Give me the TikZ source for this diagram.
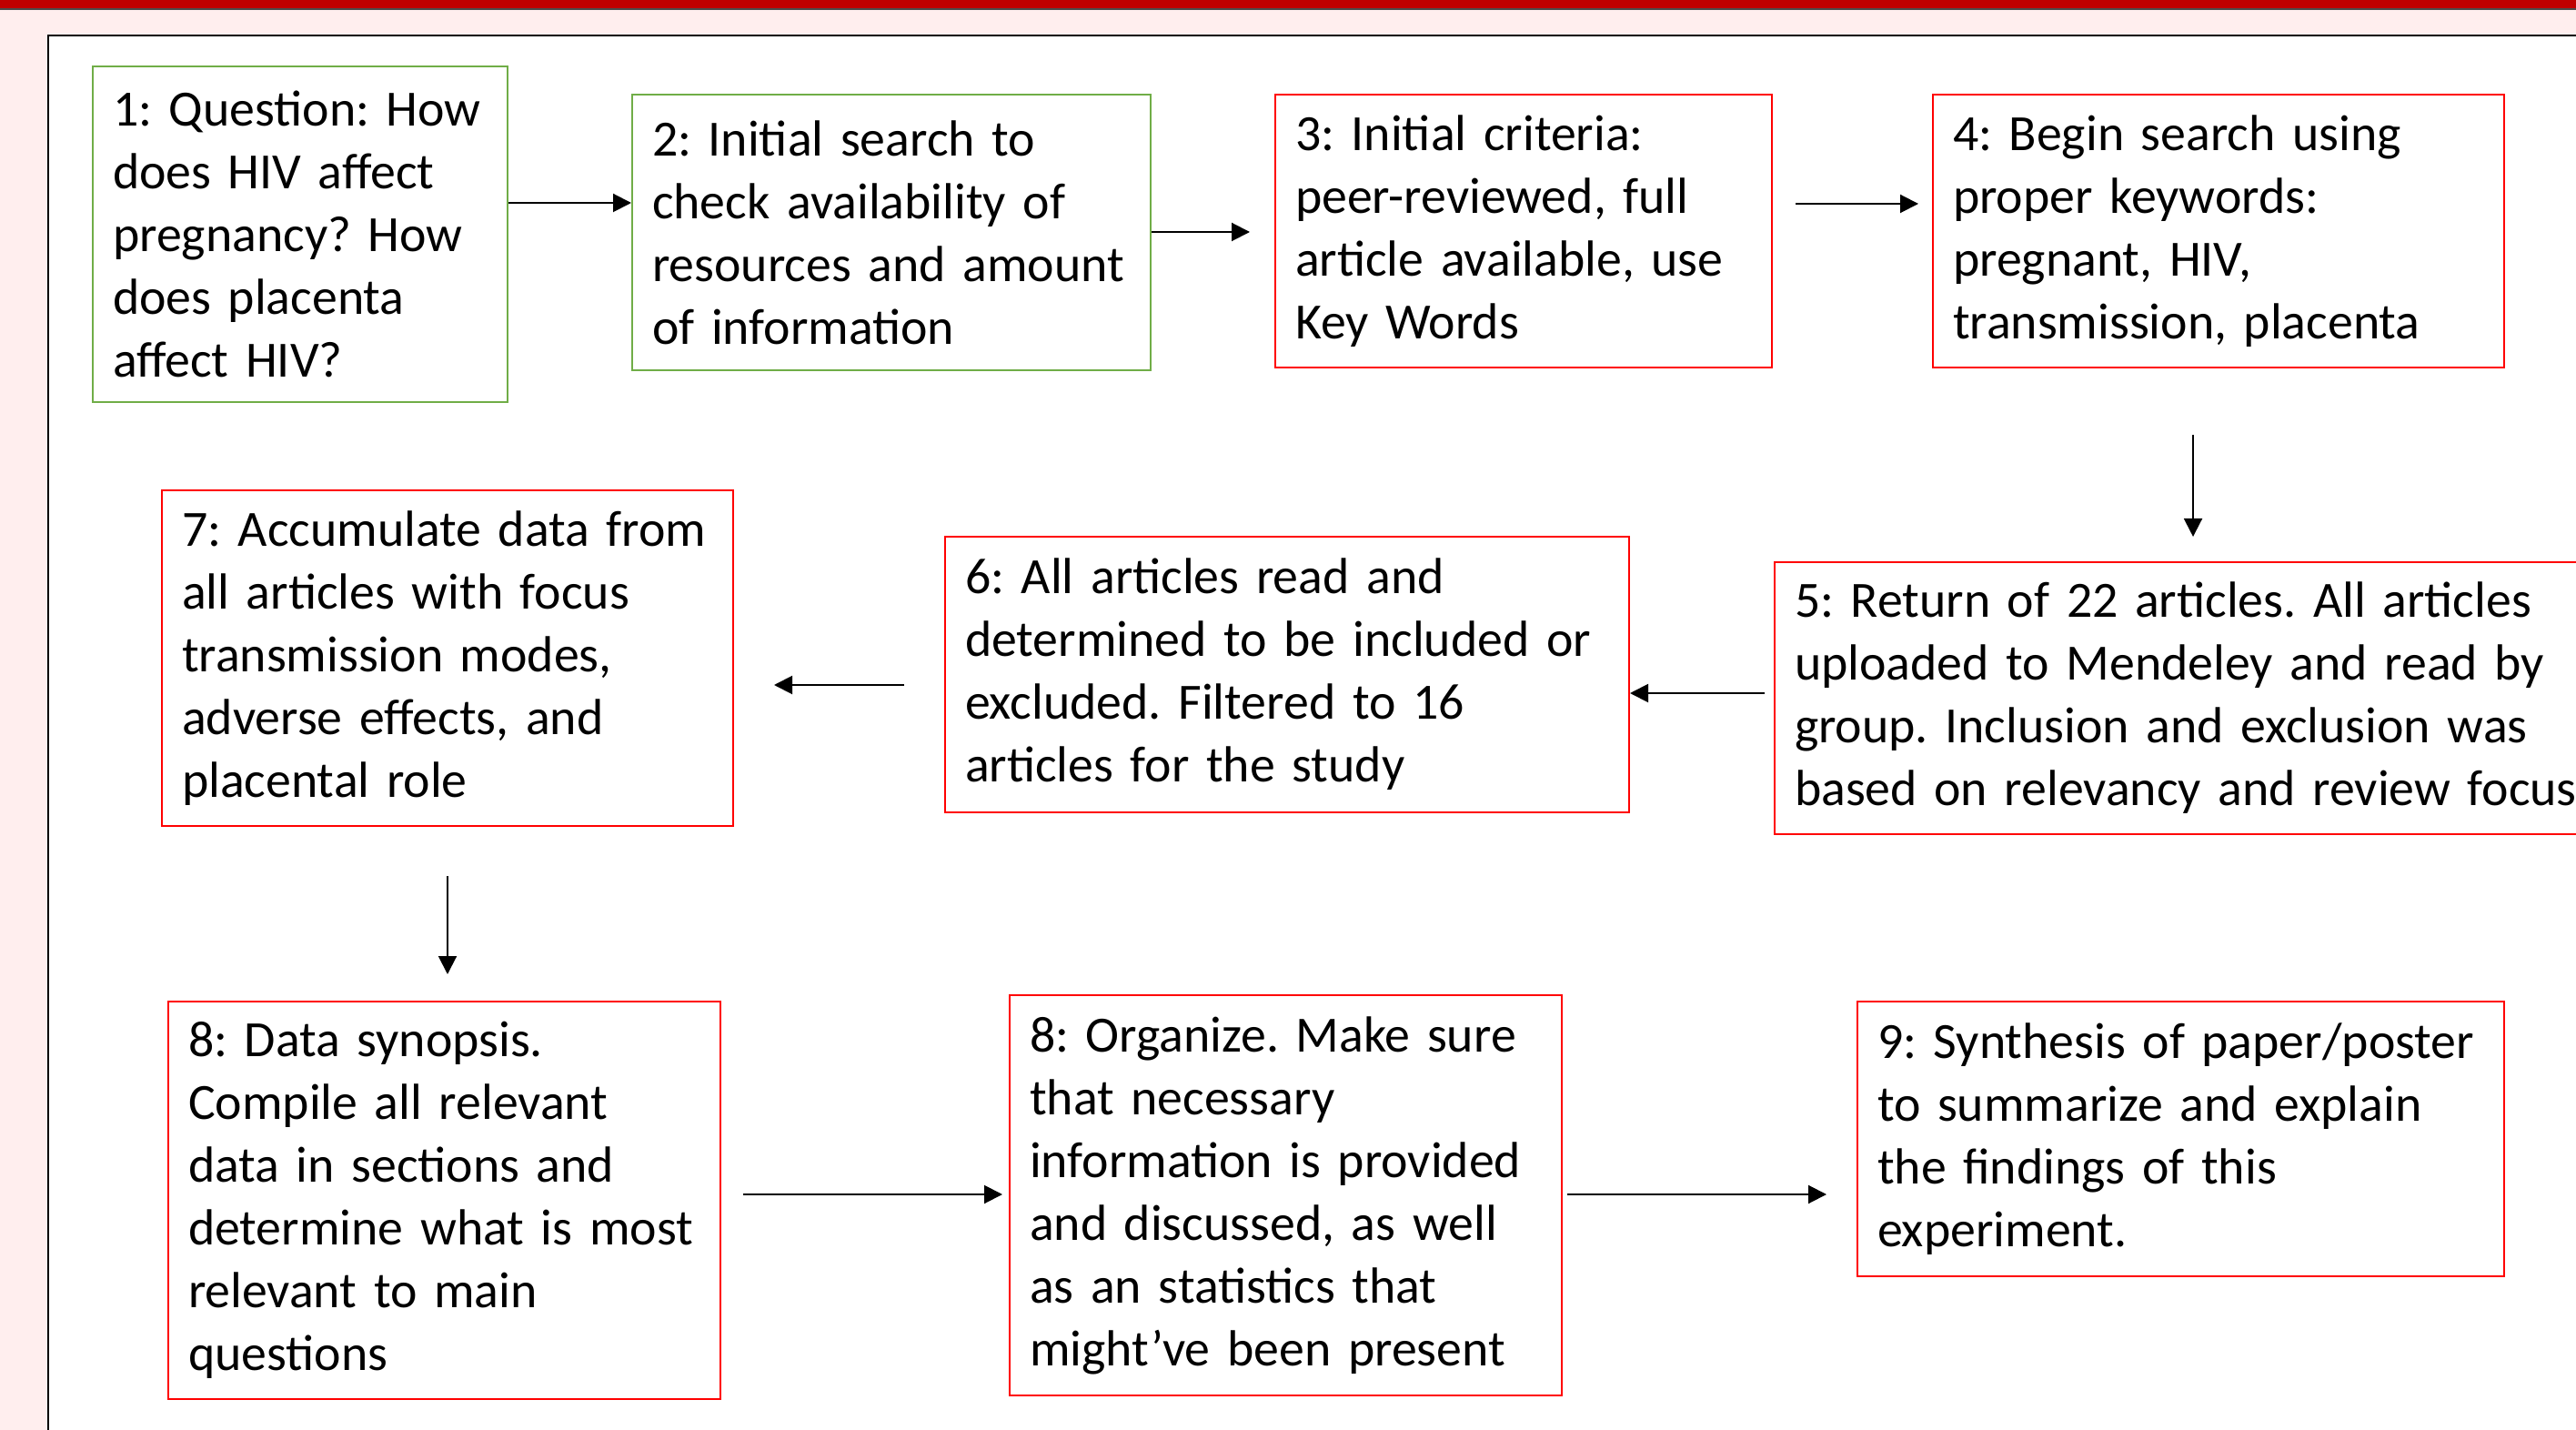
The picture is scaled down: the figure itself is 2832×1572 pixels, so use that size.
\documentclass[tikz,border=0pt]{standalone}
\usepackage{fontspec}
\setmainfont{Carlito}
\usetikzlibrary{arrows.meta}
\definecolor{barred}{RGB}{192,0,0}
\definecolor{pinkbg}{RGB}{255,238,238}
\definecolor{boxgreen}{RGB}{112,173,71}
\definecolor{boxred}{RGB}{255,0,0}
\frenchspacing
\begin{document}
\begin{tikzpicture}[x=0.5pt,y=-0.5pt,
  base/.style={rectangle, anchor=north west, line width=1pt, fill=white,
    inner xsep=11pt, inner ysep=0pt, align=left, text=black,
    font={\fontsize{27.9pt}{34.5pt}\selectfont\frenchspacing}},
  gbox/.style={base, draw=boxgreen},
  rbox/.style={base, draw=boxred},
  arr/.style={line width=1pt, draw=black, -{Triangle[length=10pt,width=10pt]}}]
\useasboundingbox (0,0) rectangle (2832,1572);
\clip (0,0) rectangle (2832,1572);
% background
\fill[pinkbg] (0,0) rectangle (2832,1572);
\fill[barred] (0,0) rectangle (2832,9.5);
\draw[black!70, line width=0.6pt] (0,10) -- (2832,10);
\fill[white] (53,39) rectangle (2900,1620);
\draw[black, line width=1.2pt] (53,1620) -- (53,39) -- (2900,39);

% boxes
\node[gbox, minimum width=228pt, minimum height=184.5pt, text width=206pt] (b1) at (101,72)
 {\mbox{1: Question: How}\\\mbox{does HIV affect}\\\mbox{pregnancy? How}\\\mbox{does placenta}\\\mbox{affect HIV?}};
\node[gbox, minimum width=285pt, minimum height=151.5pt, text width=263pt] (b2) at (694,103)
 {\mbox{2: Initial search to}\\\mbox{check availability of}\\\mbox{resources and amount}\\\mbox{of information}};
\node[rbox, minimum width=273pt, minimum height=150pt, text width=251pt] (b3) at (1401,103)
 {\mbox{3: Initial criteria:}\\\mbox{peer-reviewed, full}\\\mbox{article available, use}\\\mbox{Key Words}};
\node[rbox, minimum width=314pt, minimum height=150pt, text width=292pt] (b4) at (2124,103)
 {\mbox{4: Begin search using}\\\mbox{proper keywords:}\\\mbox{pregnant, HIV,}\\\mbox{transmission, placenta}};
\node[rbox, minimum width=465pt, minimum height=149.5pt, text width=443pt] (b5) at (1950,617)
 {\mbox{5: Return of 22 articles. All articles}\\\mbox{uploaded to Mendeley and read by}\\\mbox{group. Inclusion and exclusion was}\\\mbox{based on relevancy and review focus}};
\node[rbox, minimum width=376pt, minimum height=151.5pt, text width=354pt] (b6) at (1038,589)
 {\mbox{6: All articles read and}\\\mbox{determined to be included or}\\\mbox{excluded. Filtered to 16}\\\mbox{articles for the study}};
\node[rbox, minimum width=314pt, minimum height=184.5pt, text width=292pt] (b7) at (177,538)
 {\mbox{7: Accumulate data from}\\\mbox{all articles with focus}\\\mbox{transmission modes,}\\\mbox{adverse effects, and}\\\mbox{placental role}};
\node[rbox, minimum width=303.5pt, minimum height=218.5pt, text width=281.5pt] (b8a) at (184,1100)
 {\mbox{8: Data synopsis.}\\\mbox{Compile all relevant}\\\mbox{data in sections and}\\\mbox{determine what is most}\\\mbox{relevant to main}\\\mbox{questions}};
\node[rbox, minimum width=303.5pt, minimum height=220pt, text width=281.5pt] (b8b) at (1109,1093)
 {\mbox{8: Organize. Make sure}\\\mbox{that necessary}\\\mbox{information is provided}\\\mbox{and discussed, as well}\\\mbox{as an statistics that}\\\mbox{might’ve been present}};
\node[rbox, minimum width=355.5pt, minimum height=151pt, text width=333.5pt] (b9) at (2041,1100)
 {\mbox{9: Synthesis of paper/poster}\\\mbox{to summarize and explain}\\\mbox{the findings of this}\\\mbox{experiment.}};

% helper coordinates for connector heights
\coordinate (h12) at (0,223);
\coordinate (h23) at (0,255);
\coordinate (h34) at (0,224);
\coordinate (v45) at (2411,0);
\coordinate (h56) at (0,762);
\coordinate (h67) at (0,753);
\coordinate (h8) at (0,1313);

% connectors
\draw[arr] (b1.east |- h12) -- (b2.west |- h12);
\draw[arr] (b2.east |- h23) -- ([xshift=-13.5pt]b3.west |- h23);
\draw[arr] ([xshift=12.5pt]b3.east |- h34) -- ([xshift=-7.5pt]b4.west |- h34);
\draw[arr] ([yshift=-36.5pt]b4.south -| v45) -- ([yshift=13.5pt]b5.north -| v45);
\draw[arr] ([xshift=-5pt]b5.west |- h56) -- (b6.east |- h56);
\draw[arr] ([xshift=-22pt]b6.west |- h67) -- ([xshift=22pt]b7.east |- h67);
\draw[arr] ([yshift=-27pt]b7.south) -- ([yshift=14.5pt]b8a.north -| b7.south);
\draw[arr] ([xshift=12pt]b8a.east |- h8) -- ([xshift=-3.5pt]b8b.west |- h8);
\draw[arr] ([xshift=2.5pt]b8b.east |- h8) -- ([xshift=-16.5pt]b9.west |- h8);
\end{tikzpicture}
\end{document}
